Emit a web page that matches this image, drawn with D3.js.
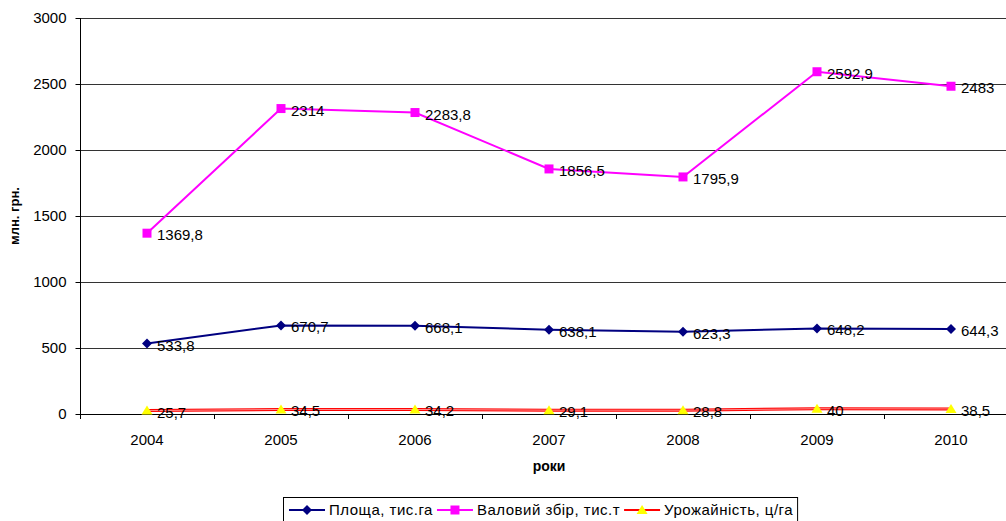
<!DOCTYPE html>
<html>
<head>
<meta charset="utf-8">
<script src="https://cdn.jsdelivr.net/npm/d3@7/dist/d3.min.js"></script>
<style>
  html, body { margin: 0; padding: 0; background: #fff; }
  svg { display: block; font-family: "Liberation Sans", Arial, sans-serif; }
</style>
</head>
<body>
<svg id="chart" width="1006" height="521"></svg>
<script>
const years = ["2004", "2005", "2006", "2007", "2008", "2009", "2010"];
const area = [533.8, 670.7, 668.1, 638.1, 623.3, 648.2, 644.3];
const harvest = [1369.8, 2314, 2283.8, 1856.5, 1795.9, 2592.9, 2483];
const yieldV = [25.7, 34.5, 34.2, 29.1, 28.8, 40, 38.5];
const yTicks = [0, 500, 1000, 1500, 2000, 2500, 3000];
const seriesNames = ["Площа, тис.га", "Валовий збір, тис.т", "Урожайність, ц/га"];
const yTitle = "млн. грн.";
const xTitle = "роки";

(function () {
const series = [
  { name: seriesNames[0], values: area, color: "#000080", marker: "diamond", markerColor: "#000080" },
  { name: seriesNames[1], values: harvest, color: "#FF00FF", marker: "square", markerColor: "#FF00FF" },
  { name: seriesNames[2], values: yieldV, color: "#FF0000", marker: "triangle", markerColor: "#FFFF00" }
];

const svg = d3.select("#chart");
const pL = 80, pR = 1018, pT = 18, pB = 414;

const x = d3.scaleBand().domain(years).range([pL, pR]);
const y = d3.scaleLinear().domain([0, 3000]).range([pB, pT]);
const cx = d => x(d) + x.bandwidth() / 2;
const fmt = v => String(v).replace(".", ",");

// gridlines
svg.append("g").selectAll("line").data(yTicks.filter(t => t > 0)).join("line")
  .attr("x1", pL).attr("x2", pR)
  .attr("y1", d => Math.round(y(d)) + 0.5).attr("y2", d => Math.round(y(d)) + 0.5)
  .attr("stroke", "#333").attr("stroke-width", 1);

// y axis
const yAxis = svg.append("g").attr("transform", `translate(${pL + 0.5},0)`)
  .call(d3.axisLeft(y).tickValues(yTicks).tickSize(5).tickPadding(9).tickFormat(d => d));
yAxis.select(".domain").attr("stroke", "#000").attr("d", `M0,${pT}V${pB}`);
yAxis.selectAll(".tick line").attr("stroke", "#000");
yAxis.selectAll(".tick text").attr("font-size", 15).attr("fill", "#000")
  .attr("font-family", "Liberation Sans, Arial, sans-serif");

// x axis
const xAxis = svg.append("g").attr("transform", `translate(0,${Math.round(pB) + 0.5})`)
  .call(d3.axisBottom(x).tickSize(0).tickPadding(20));
xAxis.select(".domain").attr("stroke", "#000").attr("d", `M${pL},0H${pR}`);
xAxis.selectAll(".tick text").attr("font-size", 15).attr("fill", "#000")
  .attr("font-family", "Liberation Sans, Arial, sans-serif");
// boundary ticks
svg.append("g").selectAll("line").data(d3.range(years.length + 1)).join("line")
  .attr("x1", i => Math.round(pL + i * x.bandwidth()) + 0.5)
  .attr("x2", i => Math.round(pL + i * x.bandwidth()) + 0.5)
  .attr("y1", pB).attr("y2", pB + 5)
  .attr("stroke", "#000");

// titles
svg.append("text").attr("x", (pL + pR) / 2).attr("y", 471)
  .attr("text-anchor", "middle").attr("font-size", 14).attr("font-weight", "bold").text(xTitle);
svg.append("text").attr("transform", `translate(19,${(pT + pB) / 2}) rotate(-90)`)
  .attr("text-anchor", "middle").attr("font-size", 13).attr("font-weight", "bold").text(yTitle);

function markerPath(type) {
  if (type === "diamond") return "M0,-5L5,0L0,5L-5,0Z";
  if (type === "square") return "M-4.5,-4.5H4.5V4.5H-4.5Z";
  return "M0,-5L5.5,4L-5.5,4Z";
}

const line = d3.line().x((d, i) => cx(years[i])).y(d => y(d));

series.forEach(s => {
  const g = svg.append("g");
  if (s.marker === "triangle") {
    g.append("path").attr("d", line(s.values)).attr("fill", "none")
      .attr("stroke", s.color).attr("stroke-width", 3);
    g.append("path").attr("d", line(s.values)).attr("fill", "none")
      .attr("stroke", "#ffb0b0").attr("stroke-width", 0.8);
  } else {
    g.append("path").attr("d", line(s.values)).attr("fill", "none")
      .attr("stroke", s.color).attr("stroke-width", 2);
  }
  g.selectAll("path.m").data(s.values).join("path").attr("class", "m")
    .attr("transform", (d, i) => `translate(${cx(years[i])},${y(d)})`)
    .attr("d", markerPath(s.marker)).attr("fill", s.markerColor);
  g.selectAll("text").data(s.values).join("text")
    .attr("x", (d, i) => cx(years[i]) + 10).attr("y", d => y(d) + 7)
    .attr("font-size", 15).attr("fill", "#000").text(d => fmt(d));
});

// legend
const lg = svg.append("g");
const lx = 283, ly = 497;
let pos = lx + 6;
series.forEach(s => {
  const it = lg.append("g");
  it.append("line").attr("x1", pos).attr("x2", pos + 36).attr("y1", ly + 13).attr("y2", ly + 13)
    .attr("stroke", s.color).attr("stroke-width", 2);
  it.append("path").attr("transform", `translate(${pos + 18},${ly + 13})`)
    .attr("d", markerPath(s.marker)).attr("fill", s.markerColor);
  const t = it.append("text").attr("x", pos + 40).attr("y", ly + 18).attr("font-size", 15)
    .attr("letter-spacing", 0.5).attr("fill", "#000").text(s.name);
  pos = pos + 40 + t.node().getComputedTextLength() + 4;
});
lg.insert("rect", ":first-child").attr("x", lx + 0.5).attr("y", ly + 0.5)
  .attr("width", pos - lx).attr("height", 30).attr("fill", "#fff").attr("stroke", "#000");
})();
</script>
</body>
</html>
